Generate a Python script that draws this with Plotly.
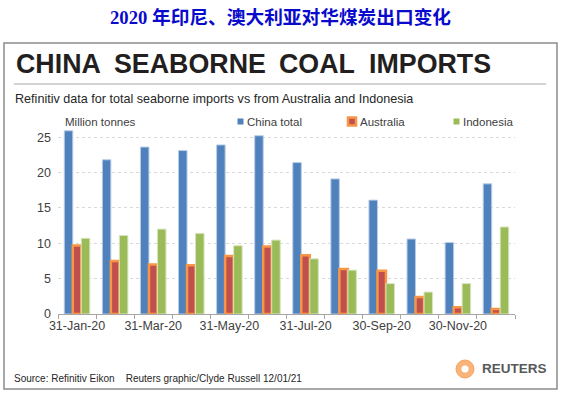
import plotly.graph_objects as go

# ---- data ----
months = ["31-Jan-20", "29-Feb-20", "31-Mar-20", "30-Apr-20", "31-May-20", "30-Jun-20",
          "31-Jul-20", "31-Aug-20", "30-Sep-20", "31-Oct-20", "30-Nov-20", "31-Dec-20"]
tick_labels = ["31-Jan-20", "", "31-Mar-20", "", "31-May-20", "",
               "31-Jul-20", "", "30-Sep-20", "", "30-Nov-20", ""]
china_total = [25.9, 21.8, 23.6, 23.1, 23.9, 25.2, 21.4, 19.1, 16.1, 10.6, 10.1, 18.4]
australia = [9.7, 7.5, 7.0, 6.9, 8.2, 9.55, 8.3, 6.35, 6.1, 2.4, 0.95, 0.7]
indonesia = [10.7, 11.1, 12.0, 11.4, 9.65, 10.45, 7.8, 6.2, 4.3, 3.1, 4.3, 12.3]
y_ticks = [0, 5, 10, 15, 20, 25]
series_names = ["China total", "Australia", "Indonesia"]
headline_words = ["CHINA", "SEABORNE", "COAL", "IMPORTS"]

# ---- geometry helpers (pixel -> paper) ----
W, H = 562, 396
L, R, T, B = 58, 47, 123, 82
PW, PH = W - L - R, H - T - B


def px(x):
    return (x - L) / PW


def py(y):
    return (H - B - y) / PH


FONT = "Liberation Sans, Arial, sans-serif"
TXT = "#404040"

fig = go.Figure()
fig.add_trace(go.Bar(x=months, y=china_total, name=series_names[0],
                     marker=dict(color="#4F81BD", line=dict(color="#B9CDE5", width=1))))
fig.add_trace(go.Bar(x=months, y=australia, name=series_names[1],
                     marker=dict(color="#C0504D", line=dict(color="#F79646", width=2.5))))
fig.add_trace(go.Bar(x=months, y=indonesia, name=series_names[2],
                     marker=dict(color="#9BBB59", line=dict(color="#D7E4BD", width=1))))

shapes = [
    # outer frame
    dict(type="rect", xref="paper", yref="paper", x0=px(4), x1=px(557), y0=py(43), y1=py(389),
         line=dict(color="#8C8C8C", width=1.5), layer="below"),
    # separator under title
    dict(type="line", xref="paper", yref="paper", x0=px(14), x1=px(546), y0=py(84), y1=py(84),
         line=dict(color="#A6A6A6", width=1)),
    # legend swatches
    dict(type="rect", xref="paper", yref="paper", x0=px(237.5), x1=px(243.5), y0=py(118.5), y1=py(124.5),
         fillcolor="#4F81BD", line=dict(width=0)),
    dict(type="rect", xref="paper", yref="paper", x0=px(348), x1=px(356), y0=py(117.5), y1=py(125.5),
         fillcolor="#C0504D", line=dict(color="#F79646", width=2.5)),
    dict(type="rect", xref="paper", yref="paper", x0=px(453.5), x1=px(459.5), y0=py(118.5), y1=py(124.5),
         fillcolor="#9BBB59", line=dict(width=0)),
    # Reuters logo
    dict(type="circle", xref="paper", yref="paper", x0=px(456), x1=px(474), y0=py(360), y1=py(378),
         fillcolor="#F9B47C", line=dict(color="#F7A35C", width=1)),
    dict(type="circle", xref="paper", yref="paper", x0=px(461.5), x1=px(468.5), y0=py(365.5), y1=py(372.5),
         fillcolor="white", line=dict(width=0)),
]

annotations = [
    dict(text="2020 年印尼、澳大利亚对华煤炭出口变化", x=px(280), y=py(17), xanchor="center", yanchor="middle",
         font=dict(family="Liberation Serif, Noto Sans CJK SC, serif", size=18.7, color="#0A0ACC", weight="bold")),
    dict(text="Refinitiv data for total seaborne imports vs from Australia and Indonesia",
         x=px(13), y=py(98.5), xanchor="left", yanchor="middle",
         font=dict(family=FONT, size=12.6, color="#262626")),
    dict(text="Million tonnes", x=px(63), y=py(121.5), xanchor="left", yanchor="middle",
         font=dict(family=FONT, size=11.5, color=TXT)),
    dict(text=series_names[0], x=px(245), y=py(121.5), xanchor="left", yanchor="middle",
         font=dict(family=FONT, size=11.5, color=TXT)),
    dict(text=series_names[1], x=px(357.5), y=py(121.5), xanchor="left", yanchor="middle",
         font=dict(family=FONT, size=11.5, color=TXT)),
    dict(text=series_names[2], x=px(460.5), y=py(121.5), xanchor="left", yanchor="middle",
         font=dict(family=FONT, size=11.5, color=TXT)),
    dict(text="Source: Refinitiv Eikon&nbsp;&nbsp;&nbsp;&nbsp;Reuters graphic/Clyde Russell 12/01/21",
         x=px(12), y=py(378), xanchor="left", yanchor="middle",
         font=dict(family=FONT, size=10, color="#262626")),
    dict(text="REUTERS", x=px(480), y=py(368.5), xanchor="left", yanchor="middle",
         font=dict(family=FONT, size=13.5, color="#58595B", weight="bold")),
]
# headline words, spaced as in the original
for word, xpos in zip(headline_words, [14, 112, 277, 367]):
    annotations.append(dict(text=word, x=px(xpos), y=py(64), xanchor="left", yanchor="middle",
                            font=dict(family=FONT, size=26.8, color="#231F20", weight="bold")))
for a in annotations:
    a.update(xref="paper", yref="paper", showarrow=False)

fig.update_layout(
    width=W, height=H,
    margin=dict(l=L, r=R, t=T, b=B, pad=0),
    paper_bgcolor="white", plot_bgcolor="white",
    barmode="group", bargap=0.33, bargroupgap=0,
    showlegend=False,
    shapes=shapes, annotations=annotations,
    font=dict(family=FONT, color=TXT),
    xaxis=dict(type="category", tickvals=months, ticktext=tick_labels, tickson="boundaries",
               ticks="outside", ticklen=4, tickcolor="#A6A6A6", showline=True, linecolor="#A6A6A6",
               linewidth=1, showgrid=False, range=[-0.5, 11.5], tickangle=0,
               tickfont=dict(family=FONT, size=12.5, color=TXT)),
    yaxis=dict(range=[0, 27], tickvals=y_ticks, showgrid=True, gridcolor="#D9D9D9", griddash="dot",
               gridwidth=1, zeroline=False, showline=False, ticks="", ticklabelstandoff=6,
               tickfont=dict(family=FONT, size=12.5, color=TXT)),
)

fig.write_html("out.html", config={"displayModeBar": False},
               post_script="document.body.style.margin='0';")
